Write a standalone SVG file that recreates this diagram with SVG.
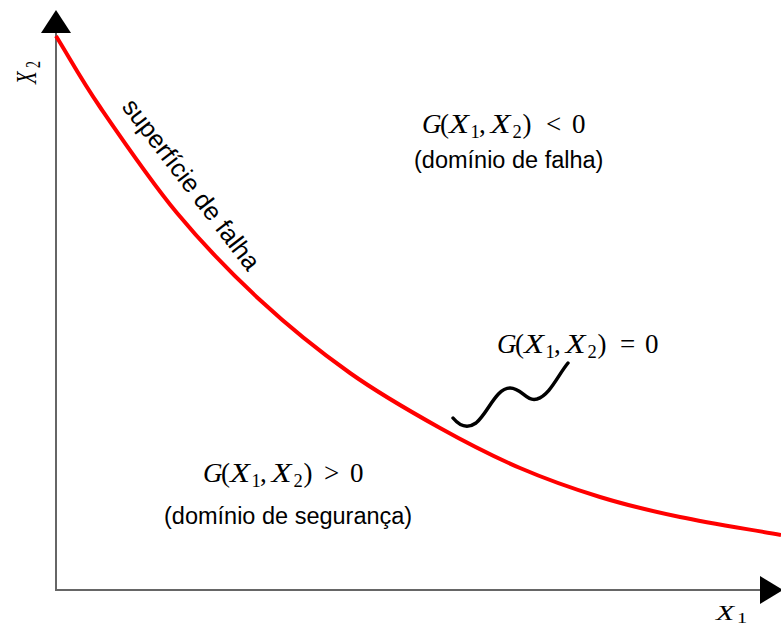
<svg xmlns="http://www.w3.org/2000/svg" width="781" height="625" viewBox="0 0 781 625">
<style>
.axis{stroke:#666;stroke-width:2;fill:none}
.head{fill:#000}
.curve{stroke:#ff0000;stroke-width:4;fill:none;stroke-linejoin:round}
.wave{stroke:#000;stroke-width:3.5;fill:none;stroke-linecap:round}
.m{font-family:"Liberation Serif","Times New Roman",serif;font-size:27px;fill:#000}
.mi{font-style:italic}
.sub{font-size:18.5px}
.s{font-family:"Liberation Sans",Arial,sans-serif;font-size:23.5px;fill:#000}
</style>
<rect width="781" height="625" fill="#fff"/>
<g id="axes">
<path class="axis" d="M56,33 V590 H760"/>
<polygon class="head" points="41,33 71,33 56,10"/>
<polygon class="head" points="760,576 760,604 783,590"/>
</g>
<g id="axis-labels">
<g transform="translate(716,620) scale(1.45,1)">
<text class="m mi" style="font-size:20.5px" x="0" y="0">X</text>
<text class="m" style="font-size:14px" x="14.5" y="3">1</text>
</g>
<g transform="translate(36,84) scale(1.45,1) rotate(-90)">
<text class="m mi" style="font-size:20.5px" x="0" y="0">X</text>
<text class="m" style="font-size:14px" x="16" y="3">2</text>
</g>
</g>
<g id="connectors">
<path id="failure-surface" class="curve" d="M56,36 C70.7,59.7 79.8,77.5 100,107 C120.2,136.5 150.3,180.8 177,213 C203.7,245.2 231.2,273.3 260,300 C288.8,326.7 320,351.7 350,373 C380,394.3 411.7,412.2 440,428 C468.3,443.8 493.3,456.5 520,468 C546.7,479.5 573.3,488.8 600,497 C626.7,505.2 649.8,510.7 680,517 C710.2,523.3 747.3,529 781,535"/>
<path id="leader" class="wave" d="M453,418 C458,424 466,430 476,423 C488,413 496,388 510,388 C522,388 526,402 537,399 C550,395 558,375 568,363"/>
</g>
<g id="label-surface">
<text class="s" style="font-size:25.5px" transform="translate(121,107) rotate(52.5)">superfície de falha</text>
</g>
<g id="label-fail">
<text class="m"><tspan x="422" y="133" class="mi">G</tspan><tspan x="440" y="133">(</tspan><tspan x="449" y="133" class="mi" textLength="20" lengthAdjust="spacingAndGlyphs">X</tspan><tspan x="470.5" y="138" class="sub">1</tspan><tspan x="479" y="133">,</tspan><tspan x="490.5" y="133" class="mi" textLength="20" lengthAdjust="spacingAndGlyphs">X</tspan><tspan x="512.5" y="138" class="sub">2</tspan><tspan x="522.5" y="133">)</tspan><tspan x="546" y="133">&lt;</tspan><tspan x="572" y="133">0</tspan></text>
<text class="s" x="414" y="168">(domínio de falha)</text>
</g>
<g id="label-limit">
<text class="m"><tspan x="497" y="353" class="mi">G</tspan><tspan x="515" y="353">(</tspan><tspan x="524" y="353" class="mi" textLength="20" lengthAdjust="spacingAndGlyphs">X</tspan><tspan x="545.5" y="358" class="sub">1</tspan><tspan x="554" y="353">,</tspan><tspan x="565.5" y="353" class="mi" textLength="20" lengthAdjust="spacingAndGlyphs">X</tspan><tspan x="587.5" y="358" class="sub">2</tspan><tspan x="597.5" y="353">)</tspan><tspan x="620" y="353">=</tspan><tspan x="645" y="353">0</tspan></text>
</g>
<g id="label-safe">
<text class="m"><tspan x="203" y="482" class="mi">G</tspan><tspan x="221" y="482">(</tspan><tspan x="230" y="482" class="mi" textLength="20" lengthAdjust="spacingAndGlyphs">X</tspan><tspan x="251.5" y="487" class="sub">1</tspan><tspan x="260" y="482">,</tspan><tspan x="271.5" y="482" class="mi" textLength="20" lengthAdjust="spacingAndGlyphs">X</tspan><tspan x="293.5" y="487" class="sub">2</tspan><tspan x="303.5" y="482">)</tspan><tspan x="324" y="482">&gt;</tspan><tspan x="350" y="482">0</tspan></text>
<text class="s" x="164" y="524">(domínio de segurança)</text>
</g>
</svg>
